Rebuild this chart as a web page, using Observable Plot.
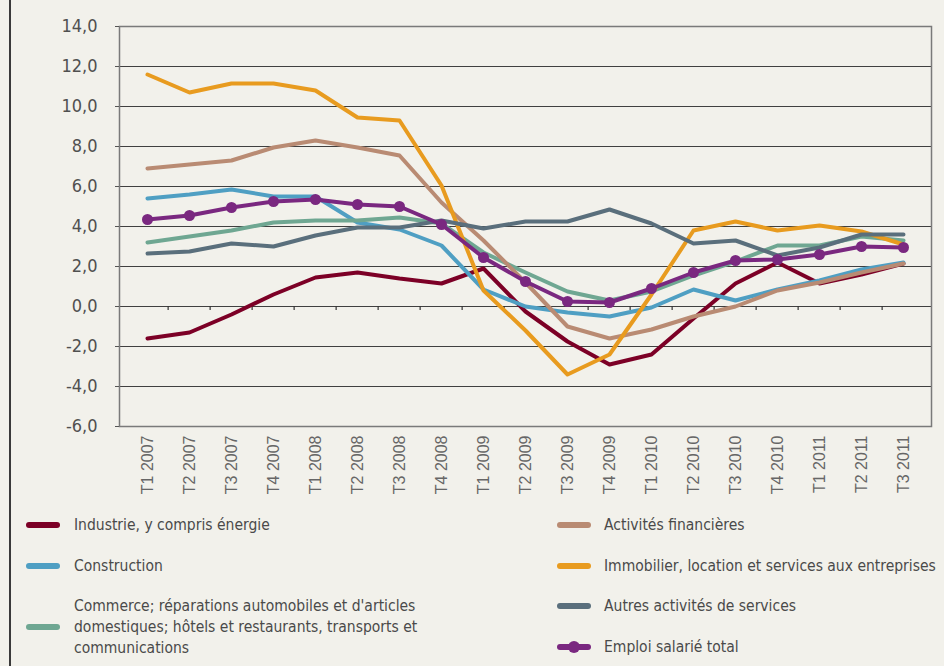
<!DOCTYPE html>
<html>
<head>
<meta charset="utf-8">
<script src="https://cdn.jsdelivr.net/npm/d3@7"></script>
<script src="https://cdn.jsdelivr.net/npm/@observablehq/plot@0.6"></script>
<style>
  html, body { margin: 0; padding: 0; background: #f2f1eb; }
  #wrap { position: relative; width: 944px; height: 666px; background: #f2f1eb; overflow: hidden; }
  #border { position: absolute; left: 9px; top: 0; width: 2px; height: 666px; background: #3a3a3a; }
  #chart { position: absolute; left: 0; top: 0; }
  .leg { position: absolute; font-family: "DejaVu Sans Condensed", "DejaVu Sans", sans-serif; font-size: 15.5px; color: #4a4a4a; line-height: 21px; }
  .sw { position: absolute; width: 34px; height: 6px; border-radius: 3px; }
  .dotsw { position: absolute; width: 12px; height: 12px; border-radius: 6px; }
</style>
</head>
<body>
<div id="wrap">
  <div id="border"></div>
  <div id="chart"></div>
  <div id="legend"></div>
</div>
<script>
const categories = ["T1 2007","T2 2007","T3 2007","T4 2007","T1 2008","T2 2008","T3 2008","T4 2008",
  "T1 2009","T2 2009","T3 2009","T4 2009","T1 2010","T2 2010","T3 2010","T4 2010","T1 2011","T2 2011","T3 2011"];

const industrie    = [-1.6,-1.3,-0.4,0.6,1.45,1.7,1.4,1.15,1.9,-0.25,-1.75,-2.9,-2.4,-0.6,1.15,2.2,1.15,1.6,2.15];
const construction = [5.4,5.6,5.85,5.5,5.5,4.2,3.85,3.05,0.85,0.0,-0.3,-0.5,-0.05,0.85,0.3,0.85,1.3,1.85,2.2];
const commerce     = [3.2,3.5,3.8,4.2,4.3,4.3,4.45,4.15,2.7,1.7,0.75,0.3,0.75,1.55,2.25,3.05,3.05,3.5,3.3];
const financieres  = [6.9,7.1,7.3,7.95,8.3,7.95,7.55,5.2,3.3,1.2,-1.0,-1.6,-1.15,-0.5,0.0,0.8,1.2,1.7,2.15];
const immobilier   = [11.6,10.7,11.15,11.15,10.8,9.45,9.3,6.05,0.8,-1.2,-3.4,-2.4,0.6,3.8,4.25,3.8,4.05,3.75,3.1];
const autres       = [2.65,2.75,3.15,3.0,3.55,3.95,3.95,4.3,3.9,4.25,4.25,4.85,4.15,3.15,3.3,2.55,2.95,3.6,3.6];
const emploi       = [4.35,4.55,4.95,5.25,5.35,5.1,5.0,4.1,2.45,1.25,0.25,0.2,0.9,1.7,2.3,2.35,2.6,3.0,2.95];

const yTicks = [-6,-4,-2,0,2,4,6,8,10,12,14];

const seriesNames = ["Industrie, y compris énergie","Construction",
  "Commerce; réparations automobiles et d'articles domestiques; hôtels et restaurants, transports et communications",
  "Activités financières","Immobilier, location et services aux entreprises","Autres activités de services","Emploi salarié total"];
const seriesColors = ["#7c0026","#4f9fc3","#6fa792","#b98b73","#e89b1f","#5a6f7c","#7a2880"];
const seriesValues = [industrie, construction, commerce, financieres, immobilier, autres, emploi];

const W = 944, H = 505, mL = 119, mR = 13;
const step = (W - mL - mR) / categories.length;

const lines = seriesValues.map((vals, k) =>
  Plot.line(vals, {x: (d, i) => categories[i], y: d => d, stroke: seriesColors[k], strokeWidth: 4, strokeLinejoin: "round", strokeLinecap: "round"}));

const chart = Plot.plot({
  width: W, height: H,
  marginLeft: mL, marginRight: mR, marginTop: 26, marginBottom: 79,
  style: {background: "transparent", overflow: "visible"},
  x: {type: "point", domain: categories, padding: 0.5, label: null},
  y: {domain: [-6, 14], label: null},
  marks: [
    Plot.ruleY(yTicks.filter(d => d > -6 && d < 14), {stroke: "#404040", strokeWidth: 1}),
    Plot.frame({stroke: "#7a7a7a", strokeWidth: 1.5}),
    Plot.ruleX(categories.slice(1), {x: d => d, y1: 0, y2: -0.2, dx: -step / 2, stroke: "#333", strokeWidth: 1.2}),
    Plot.axisY({ticks: yTicks, tickFormat: d => d.toFixed(1).replace(".", ","), tickSize: 4, tickPadding: 18,
      stroke: "#555", fill: "#505050", fontSize: 18, fontFamily: "DejaVu Sans Condensed, DejaVu Sans, sans-serif"}),
    Plot.axisX({tickSize: 0, tickRotate: -90, tickPadding: 9, fill: "#666", fontSize: 16, fontFamily: "Liberation Sans, Arial, sans-serif"}),
    ...lines,
    Plot.dot(emploi, {x: (d, i) => categories[i], y: d => d, r: 5.5, fill: seriesColors[6], stroke: "none"})
  ]
});
document.getElementById("chart").appendChild(chart);

// Legend
const legend = document.getElementById("legend");
const items = [
  {k: 0, sx: 26, tx: 74, cy: 525},
  {k: 1, sx: 26, tx: 74, cy: 566},
  {k: 2, sx: 26, tx: 74, cy: 627, lines: ["Commerce; réparations automobiles et d'articles", "domestiques; hôtels et restaurants, transports et", "communications"]},
  {k: 3, sx: 557, tx: 604, cy: 525},
  {k: 4, sx: 557, tx: 604, cy: 566},
  {k: 5, sx: 557, tx: 604, cy: 606},
  {k: 6, sx: 557, tx: 604, cy: 647, dot: true}
];
for (const it of items) {
  const sw = document.createElement("div");
  sw.className = "sw";
  sw.style.left = it.sx + "px";
  sw.style.top = (it.cy - 3) + "px";
  sw.style.background = seriesColors[it.k];
  legend.appendChild(sw);
  if (it.dot) {
    const d = document.createElement("div");
    d.className = "dotsw";
    d.style.left = (it.sx + 11) + "px";
    d.style.top = (it.cy - 6) + "px";
    d.style.background = seriesColors[it.k];
    legend.appendChild(d);
  }
  const t = document.createElement("div");
  t.className = "leg";
  const ls = it.lines || [seriesNames[it.k]];
  t.style.left = it.tx + "px";
  t.style.top = (it.cy - ls.length * 21 / 2) + "px";
  t.style.whiteSpace = "nowrap";
  ls.forEach((s, j) => {
    if (j) t.appendChild(document.createElement("br"));
    t.appendChild(document.createTextNode(s));
  });
  legend.appendChild(t);
}
</script>
</body>
</html>
